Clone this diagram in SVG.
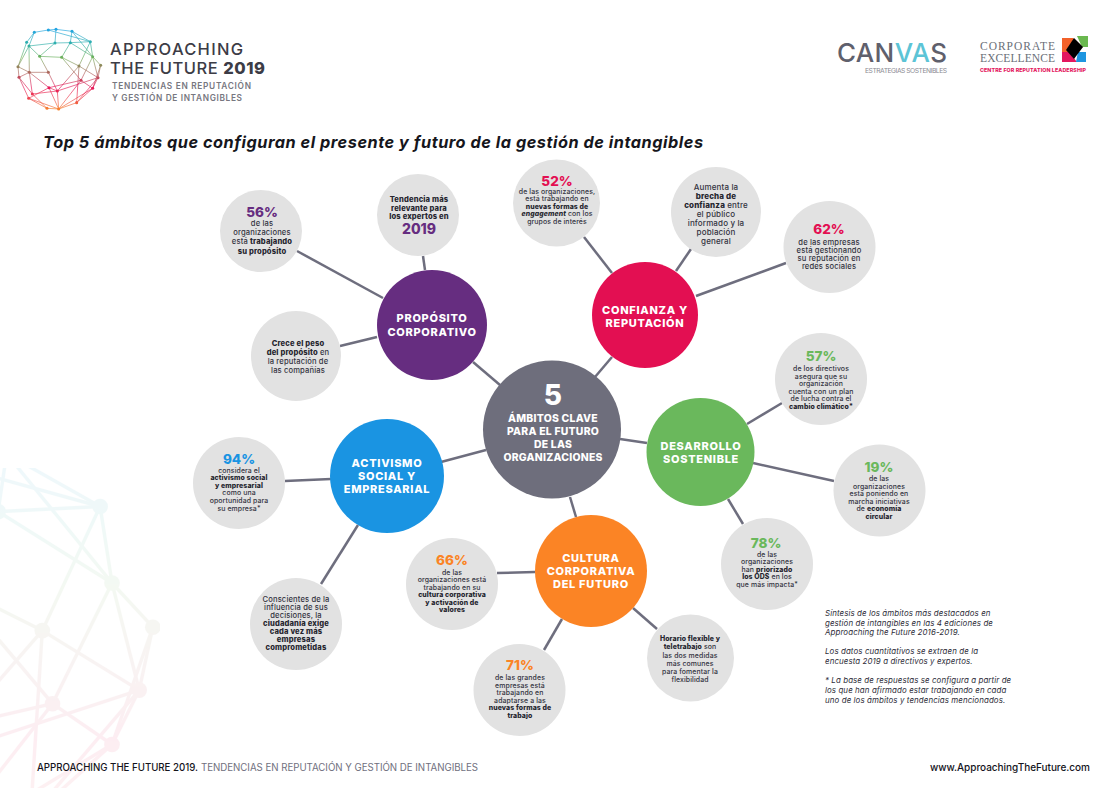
<svg xmlns="http://www.w3.org/2000/svg" xmlns:xlink="http://www.w3.org/1999/xlink" width="1118" height="788" viewBox="0 0 1118 788">
<style>
text{font-family:Inter,"Noto Sans","Liberation Sans",sans-serif}
.sat{fill:#e2e2e2}
.lk{stroke:#6e6e7e;stroke-width:2.5;fill:none}
.b{font-size:6.9px;font-weight:500;fill:#33333f;text-anchor:middle;letter-spacing:.12px}
.m{font-size:7.6px;font-weight:500;fill:#33333f;text-anchor:middle;letter-spacing:.14px}
.s{font-weight:800;fill:#26262f}
.p{font-size:13.5px;font-weight:800;text-anchor:middle}
.h{font-size:11px;font-weight:800;fill:#fff;text-anchor:middle;letter-spacing:.7px}
.c{font-size:10.4px;font-weight:800;fill:#fff;text-anchor:middle;letter-spacing:.25px}
.n{font-size:7.9px;font-style:italic;fill:#2d2d38;letter-spacing:.1px}
.net line{stroke:url(#ng);stroke-width:2;fill:none}
.net circle{fill:url(#ng)}
</style>
<defs>
<linearGradient id="ng" gradientUnits="userSpaceOnUse" x1="0" y1="55" x2="0" y2="300">
<stop offset="0" stop-color="#22a4e6"/><stop offset=".2" stop-color="#2fb0a8"/><stop offset=".36" stop-color="#6fb15a"/><stop offset=".55" stop-color="#b0645e"/><stop offset=".72" stop-color="#e6175a"/><stop offset=".86" stop-color="#ee4650"/><stop offset="1" stop-color="#f6842a"/>
</linearGradient>
<g id="sphere" class="net">
<line x1="103" y1="67" x2="145" y2="60"/><line x1="145" y1="60" x2="168" y2="58"/><line x1="168" y1="58" x2="216" y2="64"/><line x1="216" y1="64" x2="271" y2="95"/><line x1="271" y1="95" x2="278" y2="140"/><line x1="278" y1="140" x2="302" y2="166"/><line x1="302" y1="166" x2="294" y2="203"/><line x1="294" y1="203" x2="278" y2="235"/><line x1="278" y1="235" x2="230" y2="278"/><line x1="230" y1="278" x2="176" y2="297"/><line x1="176" y1="297" x2="141" y2="295"/><line x1="141" y1="295" x2="86" y2="265"/><line x1="86" y1="265" x2="57" y2="202"/><line x1="57" y1="202" x2="54" y2="170"/><line x1="54" y1="170" x2="80" y2="97"/><line x1="80" y1="97" x2="103" y2="67"/>
<line x1="87" y1="108" x2="165" y2="99"/><line x1="165" y1="99" x2="211" y2="98"/><line x1="211" y1="98" x2="271" y2="95"/><line x1="87" y1="108" x2="119" y2="139"/><line x1="119" y1="139" x2="185" y2="142"/><line x1="185" y1="142" x2="211" y2="98"/><line x1="165" y1="99" x2="168" y2="58"/><line x1="165" y1="99" x2="119" y2="139"/><line x1="211" y1="98" x2="216" y2="64"/><line x1="87" y1="108" x2="103" y2="67"/><line x1="87" y1="108" x2="54" y2="170"/><line x1="145" y1="60" x2="271" y2="95"/><line x1="211" y1="98" x2="278" y2="140"/><line x1="216" y1="64" x2="278" y2="140"/><line x1="271" y1="95" x2="237" y2="168"/><line x1="278" y1="140" x2="243" y2="211"/><line x1="278" y1="140" x2="294" y2="203"/><line x1="237" y1="168" x2="294" y2="203"/><line x1="237" y1="168" x2="185" y2="142"/><line x1="237" y1="168" x2="172" y2="243"/><line x1="237" y1="168" x2="230" y2="278"/><line x1="243" y1="211" x2="278" y2="235"/><line x1="243" y1="211" x2="147" y2="233"/><line x1="243" y1="211" x2="176" y2="297"/><line x1="185" y1="142" x2="243" y2="211"/><line x1="294" y1="203" x2="172" y2="243"/><line x1="294" y1="203" x2="230" y2="278"/><line x1="278" y1="235" x2="176" y2="297"/><line x1="302" y1="166" x2="278" y2="235"/>
<line x1="119" y1="139" x2="145" y2="187"/><line x1="88" y1="187" x2="145" y2="187"/><line x1="88" y1="187" x2="54" y2="170"/><line x1="88" y1="187" x2="57" y2="202"/><line x1="88" y1="187" x2="87" y2="108"/><line x1="88" y1="187" x2="147" y2="233"/><line x1="145" y1="187" x2="172" y2="243"/><line x1="88" y1="187" x2="97" y2="252"/><line x1="97" y1="252" x2="172" y2="243"/><line x1="97" y1="252" x2="57" y2="202"/><line x1="86" y1="265" x2="147" y2="233"/><line x1="86" y1="265" x2="176" y2="297"/><line x1="172" y1="243" x2="176" y2="297"/><line x1="147" y1="233" x2="176" y2="297"/><line x1="97" y1="252" x2="141" y2="295"/><line x1="147" y1="233" x2="172" y2="243"/>
<circle cx="103" cy="67" r="4.600"/><circle cx="145" cy="60" r="4.600"/><circle cx="168" cy="58" r="4.600"/><circle cx="216" cy="64" r="4.600"/><circle cx="80" cy="97" r="4.600"/><circle cx="87" cy="108" r="4.600"/><circle cx="165" cy="99" r="4.600"/><circle cx="211" cy="98" r="4.600"/><circle cx="271" cy="95" r="4.600"/><circle cx="119" cy="139" r="4.600"/><circle cx="185" cy="142" r="4.600"/><circle cx="278" cy="140" r="4.600"/><circle cx="54" cy="170" r="4.600"/><circle cx="88" cy="187" r="4.600"/><circle cx="145" cy="187" r="4.600"/><circle cx="237" cy="168" r="4.600"/><circle cx="302" cy="166" r="4.600"/><circle cx="57" cy="202" r="4.600"/><circle cx="243" cy="211" r="4.600"/><circle cx="294" cy="203" r="4.600"/><circle cx="147" cy="233" r="4.600"/><circle cx="172" cy="243" r="4.600"/><circle cx="278" cy="235" r="4.600"/><circle cx="97" cy="252" r="4.600"/><circle cx="86" cy="265" r="4.600"/><circle cx="141" cy="295" r="4.600"/><circle cx="176" cy="297" r="4.600"/><circle cx="230" cy="278" r="4.600"/>
</g>
<clipPath id="bgclip"><rect x="0" y="468" width="160" height="320"/></clipPath>
</defs>
<rect width="1118" height="788" fill="#fff"/>
<g clip-path="url(#bgclip)" opacity=".07"><use xlink:href="#sphere" href="#sphere" transform="translate(-360.6 345) scale(1.7)"/></g>
<g id="logo-approaching">
<use xlink:href="#sphere" href="#sphere" transform="translate(0 10) scale(.3333)"/>
<text x="110" y="54.500" font-size="16.500" font-weight="500" fill="#3c3c46" textLength="133">APPROACHING</text>
<text x="110" y="73.500" font-size="16.500" font-weight="500" fill="#3c3c46" textLength="155">THE FUTURE <tspan font-weight="800">2019</tspan></text>
<text x="112" y="88.500" font-size="8.300" font-weight="600" fill="#77777f" textLength="139">TENDENCIAS EN REPUTACIÓN</text>
<text x="112" y="100.500" font-size="8.300" font-weight="600" fill="#77777f" textLength="130">Y GESTIÓN DE INTANGIBLES</text>
</g>
<g id="logo-canvas">
<text x="837" y="62" font-size="26" font-weight="500" fill="#5f606c" textLength="110">CAN<tspan fill="#5cc4d6">VA</tspan>S</text>
<text x="865" y="73" font-size="6.700" fill="#8a8a92" textLength="82">ESTRATEGIAS SOSTENIBLES</text>
</g>
<g id="logo-corporate">
<text x="980" y="50" font-size="11.500" fill="#6a6f78" textLength="75" style="font-family:'Liberation Serif',serif">CORPORATE</text>
<text x="980" y="62" font-size="11.500" fill="#6a6f78" textLength="75" style="font-family:'Liberation Serif',serif">EXCELLENCE</text>
<text x="980" y="72" font-size="5.300" font-weight="800" fill="#e3175e" textLength="106">CENTRE FOR REPUTATION LEADERSHIP</text>
<polygon points="1062,38 1073,38 1083,47 1074,52 1062,52" fill="#f2612a"/>
<polygon points="1077,36 1088,36 1088,47 1082,47" fill="#6ab84f"/>
<polygon points="1062,52 1069,52 1077,62 1062,62" fill="#e3175e"/>
<polygon points="1078,52 1086,52 1086,62 1076,62" fill="#1e96e0"/>
<polygon points="1074,38 1083,47 1074,59 1066,50" fill="#000"/>
</g>
<text x="43" y="148" font-size="16.300" font-weight="700" font-style="italic" fill="#16161c" textLength="660">Top 5 ámbitos que configuran el presente y futuro de la gestión de intangibles</text>
<g id="connectors" class="lk">
<line x1="297" y1="251" x2="383" y2="298"/><line x1="423" y1="256" x2="425" y2="270"/><line x1="340" y1="346" x2="377" y2="337"/><line x1="473" y1="362" x2="500" y2="385"/>
<line x1="584" y1="237" x2="612" y2="273"/><line x1="691" y1="249" x2="676" y2="271"/><line x1="786" y1="263" x2="696" y2="296"/><line x1="612" y1="357" x2="595" y2="377"/>
<line x1="782" y1="403" x2="747" y2="424"/><line x1="834" y1="481" x2="753" y2="463"/><line x1="728" y1="499" x2="743" y2="524"/><line x1="620" y1="439" x2="647" y2="443"/>
<line x1="570" y1="497" x2="576" y2="517"/><line x1="497" y1="573" x2="535" y2="572"/><line x1="544" y1="650" x2="562" y2="619"/><line x1="633" y1="608" x2="657" y2="629"/>
<line x1="285" y1="481" x2="331" y2="479"/><line x1="321" y1="584" x2="358" y2="525"/><line x1="486" y1="450" x2="441" y2="462"/>
</g>
<g id="node-center"><circle cx="552" cy="429.500" r="69" fill="#6e6e7c"/>
<text x="553" y="405" font-size="28" font-weight="800" fill="#fff" text-anchor="middle">5</text>
<text class="c"><tspan x="553" y="422">ÁMBITOS CLAVE</tspan><tspan x="553" y="435">PARA EL FUTURO</tspan><tspan x="553" y="448">DE LAS</tspan><tspan x="553" y="461">ORGANIZACIONES</tspan></text></g>
<g id="node-proposito"><circle cx="432" cy="325" r="55" fill="#662d80"/>
<text class="h"><tspan x="432" y="322">PROPÓSITO</tspan><tspan x="432" y="336">CORPORATIVO</tspan></text></g>
<g id="node-confianza"><circle cx="645" cy="315" r="53" fill="#e30f52"/>
<text class="h"><tspan x="645" y="314">CONFIANZA Y</tspan><tspan x="645" y="327">REPUTACIÓN</tspan></text></g>
<g id="node-desarrollo"><circle cx="700.500" cy="452" r="54" fill="#6ab85c"/>
<text class="h"><tspan x="701" y="450">DESARROLLO</tspan><tspan x="701" y="463">SOSTENIBLE</tspan></text></g>
<g id="node-cultura"><circle cx="591" cy="571" r="56" fill="#fb8425"/>
<text class="h"><tspan x="591" y="562">CULTURA</tspan><tspan x="591" y="575">CORPORATIVA</tspan><tspan x="591" y="588">DEL FUTURO</tspan></text></g>
<g id="node-activismo"><circle cx="387" cy="476" r="57" fill="#1a94e2"/>
<text class="h"><tspan x="387" y="467">ACTIVISMO</tspan><tspan x="387" y="480">SOCIAL Y</tspan><tspan x="387" y="493">EMPRESARIAL</tspan></text></g>
<g id="sat-56"><circle class="sat" cx="261" cy="231" r="41"/><text class="p" x="262" y="217" fill="#662d80">56%</text>
<text class="m"><tspan x="262" y="226">de las</tspan><tspan x="262" y="235">organizaciones</tspan><tspan x="262" y="244">está <tspan class="s">trabajando</tspan></tspan><tspan x="262" y="254" class="s">su propósito</tspan></text></g>
<g id="sat-tendencia"><circle class="sat" cx="418" cy="215" r="41"/>
<text class="m"><tspan class="s" x="419" y="202">Tendencia más</tspan><tspan class="s" x="419" y="211">relevante para</tspan><tspan class="s" x="419" y="219">los expertos en</tspan></text><text class="p" x="419" y="234" fill="#662d80" style="font-size:14px">2019</text></g>
<g id="sat-crece"><circle class="sat" cx="296" cy="356" r="45"/>
<text class="m"><tspan class="s" x="298" y="346">Crece el peso</tspan><tspan x="298" y="355"><tspan class="s">del propósito</tspan> en</tspan><tspan x="298" y="364">la reputación de</tspan><tspan x="298" y="373">las compañías</tspan></text></g>
<g id="sat-52"><circle class="sat" cx="556.500" cy="203" r="43.500"/><text class="p" x="557" y="185.500" fill="#e30f52">52%</text>
<text class="b"><tspan x="557" y="193.500">de las organizaciones,</tspan><tspan x="557" y="201">está trabajando en</tspan><tspan class="s" x="557" y="208.500">nuevas formas de</tspan><tspan x="557" y="216"><tspan class="s" font-style="italic">engagement</tspan> con los</tspan><tspan x="557" y="223.500">grupos de interés</tspan></text></g>
<g id="sat-aumenta"><circle class="sat" cx="716" cy="212" r="45"/>
<text class="m" style="font-size:8px"><tspan x="716" y="190">Aumenta la</tspan><tspan class="s" x="716" y="199">brecha de</tspan><tspan x="716" y="208"><tspan class="s">confianza</tspan> entre</tspan><tspan x="716" y="217">el público</tspan><tspan x="716" y="226">informado y la</tspan><tspan x="716" y="235">población</tspan><tspan x="716" y="244">general</tspan></text></g>
<g id="sat-62"><circle class="sat" cx="829.500" cy="247" r="46"/><text class="p" x="829" y="234" fill="#e30f52">62%</text>
<text class="m"><tspan x="829" y="245">de las empresas</tspan><tspan x="829" y="253">está gestionando</tspan><tspan x="829" y="261">su reputación en</tspan><tspan x="829" y="269">redes sociales</tspan></text></g>
<g id="sat-57"><circle class="sat" cx="821" cy="379" r="46"/><text class="p" x="821" y="361" fill="#6ab85c">57%</text>
<text class="b"><tspan x="821" y="371">de los directivos</tspan><tspan x="821" y="378.500">asegura que su</tspan><tspan x="821" y="386">organización</tspan><tspan x="821" y="393.500">cuenta con un plan</tspan><tspan x="821" y="401">de lucha contra el</tspan><tspan class="s" x="821" y="408.500">cambio climático*</tspan></text></g>
<g id="sat-19"><circle class="sat" cx="879.500" cy="490.500" r="46"/><text class="p" x="879" y="472" fill="#6ab85c">19%</text>
<text class="b"><tspan x="879" y="481">de las</tspan><tspan x="879" y="488.500">organizaciones</tspan><tspan x="879" y="496">está poniendo en</tspan><tspan x="879" y="503.500">marcha iniciativas</tspan><tspan x="879" y="511">de <tspan class="s">economía</tspan></tspan><tspan class="s" x="879" y="518.500">circular</tspan></text></g>
<g id="sat-78"><circle class="sat" cx="767" cy="564" r="46"/><text class="p" x="766" y="548" fill="#6ab85c">78%</text>
<text class="b"><tspan x="767" y="556.500">de las</tspan><tspan x="767" y="564">organizaciones</tspan><tspan x="767" y="571.500">han <tspan class="s">priorizado</tspan></tspan><tspan x="767" y="579"><tspan class="s">los ODS</tspan> en los</tspan><tspan x="767" y="586.500">que más impacta*</tspan></text></g>
<g id="sat-66"><circle class="sat" cx="452" cy="584" r="46"/><text class="p" x="452" y="565" fill="#fb8425">66%</text>
<text class="b"><tspan x="452" y="574.500">de las</tspan><tspan x="452" y="582">organizaciones está</tspan><tspan x="452" y="589.500">trabajando en su</tspan><tspan class="s" x="452" y="597">cultura corporativa</tspan><tspan class="s" x="452" y="604.500">y activación de</tspan><tspan class="s" x="452" y="612">valores</tspan></text></g>
<g id="sat-71"><circle class="sat" cx="519.500" cy="690" r="46"/><text class="p" x="520" y="670" fill="#fb8425">71%</text>
<text class="b"><tspan x="520" y="680">de las grandes</tspan><tspan x="520" y="687.500">empresas está</tspan><tspan x="520" y="695">trabajando en</tspan><tspan x="520" y="702.500">adaptarse a las</tspan><tspan class="s" x="520" y="710">nuevas formas de</tspan><tspan class="s" x="520" y="717.500">trabajo</tspan></text></g>
<g id="sat-horario"><circle class="sat" cx="690.500" cy="658" r="43.500"/>
<text class="b"><tspan class="s" x="690" y="641">Horario flexible y</tspan><tspan x="690" y="649"><tspan class="s">teletrabajo</tspan> son</tspan><tspan x="690" y="657.500">las dos medidas</tspan><tspan x="690" y="665.500">más comunes</tspan><tspan x="690" y="673.500">para fomentar la</tspan><tspan x="690" y="681.500">flexibilidad</tspan></text></g>
<g id="sat-94"><circle class="sat" cx="239" cy="483" r="46"/><text class="p" x="239" y="464" fill="#1a94e2">94%</text>
<text class="b"><tspan x="239" y="472.500">considera el</tspan><tspan class="s" x="239" y="480">activismo social</tspan><tspan class="s" x="239" y="487.500">y empresarial</tspan><tspan x="239" y="495">como una</tspan><tspan x="239" y="503">oportunidad para</tspan><tspan x="239" y="511">su empresa*</tspan></text></g>
<g id="sat-conscientes"><circle class="sat" cx="296" cy="624" r="46"/>
<text class="m"><tspan x="296" y="602">Conscientes de la</tspan><tspan x="296" y="610">influencia de sus</tspan><tspan x="296" y="618">decisiones, la</tspan><tspan class="s" x="296" y="626">ciudadanía exige</tspan><tspan class="s" x="296" y="634">cada vez más</tspan><tspan class="s" x="296" y="642">empresas</tspan><tspan class="s" x="296" y="650">comprometidas</tspan></text></g>
<g id="notes"><text class="n"><tspan x="825" y="616">Síntesis de los ámbitos más destacados en</tspan><tspan x="825" y="626">gestión de intangibles en las 4 ediciones de</tspan><tspan x="825" y="635">Approaching the Future 2016-2019.</tspan><tspan x="825" y="654">Los datos cuantitativos se extraen de la</tspan><tspan x="825" y="664">encuesta 2019 a directivos y expertos.</tspan><tspan x="825" y="683">* La base de respuestas se configura a partir de</tspan><tspan x="825" y="693">los que han afirmado estar trabajando en cada</tspan><tspan x="825" y="703">uno de los ámbitos y tendencias mencionados.</tspan></text></g>
<g id="footer">
<text x="37" y="771" font-size="9.700" font-weight="500" fill="#14141c" textLength="161">APPROACHING THE FUTURE 2019.</text>
<text x="201" y="771" font-size="9.700" fill="#70707e" textLength="277">TENDENCIAS EN REPUTACIÓN Y GESTIÓN DE INTANGIBLES</text>
<text x="930" y="771" font-size="10" font-weight="500" fill="#14141c" textLength="160">www.ApproachingTheFuture.com</text>
</g>
</svg>
